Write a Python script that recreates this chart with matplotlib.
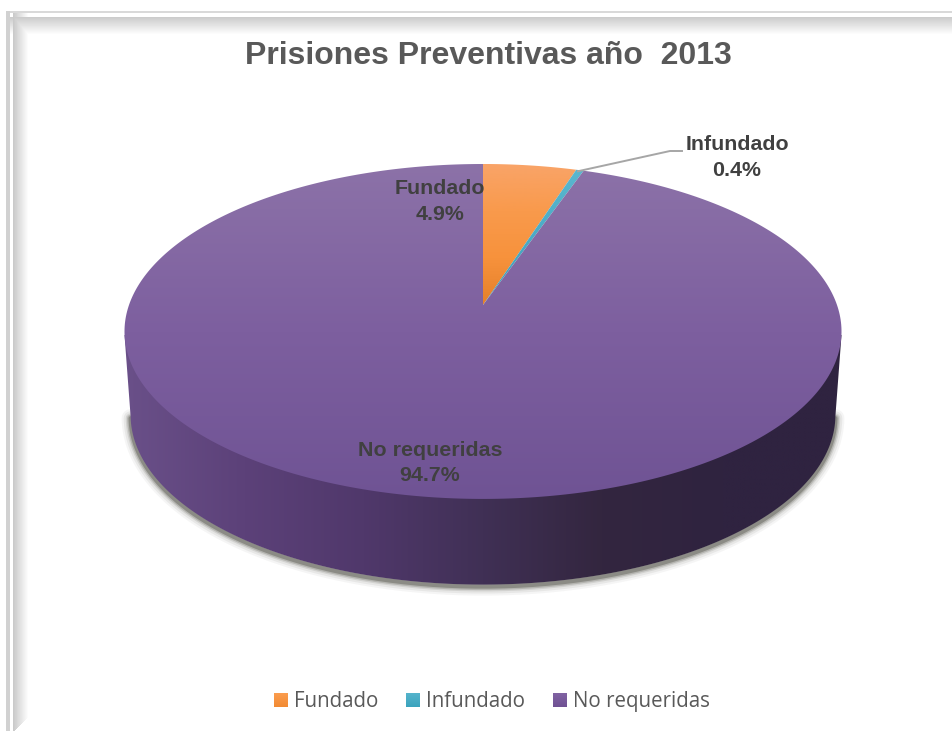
import numpy as np
import matplotlib
matplotlib.use("Agg")
import matplotlib.pyplot as plt
from matplotlib.colors import LinearSegmentedColormap
from matplotlib.patches import PathPatch
from matplotlib.path import Path

# Values shown on the chart
labels = ["Fundado", "Infundado", "No requeridas"]
shares = [4.9, 0.4, 94.7]
title = "Prisiones Preventivas año  2013"

W, H = 952, 731
GREY_TITLE = "#595959"
GREY_LABEL = "#404040"

# Disc geometry in pixels (perspective view of a circle)
CX, APEX_Y = 483.0, 305.0
PERSP = 0.158
TILT = -115.1
SCALE = 354.0


def project(u, v):
    # unit circle coords -> pixel coords, back of the disc is squeezed
    d = PERSP * v + 1
    return CX + SCALE * u / d, (TILT * v + APEX_Y) / d


def wedge_path(start, end):
    # angles in degrees, clockwise from 12 o'clock
    t = np.radians(np.linspace(start, end, 400))
    x, y = project(np.sin(t), np.cos(t))
    pts = np.column_stack([np.r_[CX, x, CX], np.r_[APEX_Y, y, APEX_Y]])
    return Path(pts, closed=True)


def gradient(ax, colors, extent, path=None, horizontal=False, zorder=2):
    cmap = LinearSegmentedColormap.from_list("g", colors)
    g = np.linspace(0, 1, 256)
    g = g[None, :] if horizontal else g[:, None]
    im = ax.imshow(g, cmap=cmap, extent=extent, aspect="auto", zorder=zorder,
                   interpolation="bilinear", vmin=0, vmax=1)
    if path is not None:
        im.set_clip_path(PathPatch(path, transform=ax.transData))
    return im


fig = plt.figure(figsize=(W / 100, H / 100), dpi=100)
ax = fig.add_axes([0, 0, 1, 1])
ax.axis("off")

# Frame along the top and left edges
px, py = np.meshgrid(np.arange(W) + 0.5, np.arange(H) + 0.5)
inner_x = np.where(px < 13.5, 1.0, np.clip(0.79 + (px - 13.5) / 15 * 0.21, 0, 1))
inner_y = np.where(py < 17.5, 1.0, np.clip(0.80 + (py - 17.5) / 17 * 0.20, 0, 1))
frame = np.minimum(inner_x, inner_y)
frame[(py > 717) & (px - 14 > 731 - py)] = 1.0
frame[(py >= 11) & (py < 13.5) & (px >= 6)] = 0.85
frame[(px >= 6) & (px < 10) & (py >= 11)] = 0.82
frame[(py < 11) | (px < 6)] = 1.0
ax.imshow(frame, cmap="gray", vmin=0, vmax=1, extent=(0, W, H, 0), aspect="auto",
          interpolation="bilinear", zorder=0)

# Outline of the lower rim, used for the wall and the drop shadow
t = np.radians(np.linspace(0, 360, 721))
top_x, top_y = project(np.sin(t), np.cos(t))
low_x = CX + (top_x - CX) * 0.983
low_y = 415 + (top_y - 331.5) * 1.013

# Soft shadow under the wall
front = (t > np.radians(99)) & (t < np.radians(261))
for lw, alpha in zip([13, 10, 7, 5, 3], [0.05, 0.08, 0.13, 0.22, 0.38]):
    ax.plot(low_x[front], low_y[front] + 2, color="#4a4a40", lw=lw, alpha=alpha,
            zorder=1, solid_capstyle="round")

# Side wall, darkening toward the right
wall_pts = np.column_stack([np.r_[841.5, low_x[front], 124.5, 124.5],
                            np.r_[335, low_y[front], 335, 335]])
wall_path = Path(wall_pts, closed=True)
gradient(ax, ["#6a5089", "#5c4179", "#50386b", "#403055", "#33263f", "#2f2340", "#2f2340"],
         (124, 842, 600, 300), path=wall_path, horizontal=True, zorder=1.6)

# Top of the disc, one slice per share
fills = [["#f9a468", "#f99a4c", "#f7923c", "#e5802a"],
         ["#5cb8d0", "#4bacc6", "#3f9db6"],
         ["#8c72a8", "#7d5f9f", "#6f5394"]]
slice_extents = [(120, 845, 305, 164), (120, 845, 305, 164), (120, 845, 500, 164)]
angle = 0.0
edges = []
for share, colors, extent in zip(shares, fills, slice_extents):
    end = angle + share / sum(shares) * 360
    gradient(ax, colors, extent, path=wedge_path(angle, end), zorder=3)
    edges.append((angle, end))
    angle = end

# Leader line from the thin slice out to its label
mid = np.radians(sum(edges[1]) / 2)
x0, y0 = project(np.sin(mid), np.cos(mid))
ax.plot([x0 - 2, 670, 682], [y0 + 1, 151, 151], color="#a6a6a6", lw=1.4, zorder=4)

plt.rcParams["font.family"] = ["Liberation Sans", "DejaVu Sans"]

ax.text(488, 56, title, ha="center", va="center", fontsize=23, fontweight="bold",
        color=GREY_TITLE, zorder=5)

# Slice labels
label_pos = [(440, 201.5), (737, 157.5), (430, 463)]
for name, share, (lx, ly) in zip(labels, shares, label_pos):
    ax.text(lx, ly, f"{name}\n{share}%", ha="center", va="center", fontsize=15.4,
            fontweight="bold", color=GREY_LABEL, linespacing=1.42, zorder=5)

# Legend along the bottom
legend_x = [274, 406, 553]
legend_colors = [("#fb9d4f", "#f28a32"), ("#55b4cc", "#3ba3bd"), ("#8163a3", "#6f5193")]
for name, x, cols in zip(labels, legend_x, legend_colors):
    gradient(ax, list(cols), (x, x + 14, 707, 693), zorder=3)
    ax.text(x + 20, 707, name, ha="left", va="baseline", fontsize=14.8, family="Open Sans",
            color=GREY_TITLE, zorder=5)

ax.set_xlim(0, W)
ax.set_ylim(H, 0)
fig.savefig("out.png", dpi=100, facecolor="white")
